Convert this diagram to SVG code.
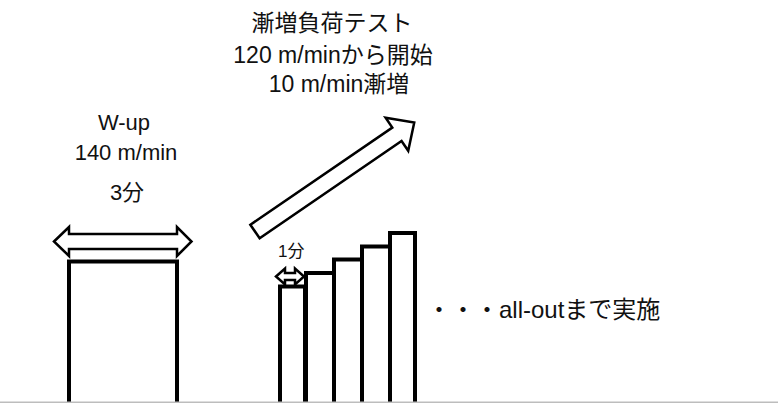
<svg xmlns="http://www.w3.org/2000/svg" width="778" height="403" viewBox="0 0 778 403">
<style>
.t{font-family:"Liberation Sans","Noto Sans CJK JP",sans-serif;fill:#111;}
.box{fill:#fff;stroke:#000;stroke-width:4;}
.arr{fill:#fff;stroke:#000;stroke-width:2.5;stroke-linejoin:miter;}
</style>
<rect width="778" height="403" fill="#fff"/>
<g id="title">
<text class="t" x="332" y="31" font-size="23" text-anchor="middle">漸増負荷テスト</text>
<text class="t" x="333" y="63" font-size="23" text-anchor="middle">120 m/minから開始</text>
<text class="t" x="339" y="92" font-size="23" text-anchor="middle">10 m/min漸増</text>
</g>
<g id="wup-label">
<text class="t" x="124" y="130" font-size="22" text-anchor="middle">W-up</text>
<text class="t" x="126" y="160" font-size="22" text-anchor="middle">140 m/min</text>
<text class="t" x="127" y="200" font-size="22" text-anchor="middle">3分</text>
</g>
<g id="wup-bar">
<rect class="box" x="69" y="261.5" width="108" height="150"/>
</g>
<g id="steps">
<rect class="box" x="280" y="286.5" width="25" height="125"/>
<rect class="box" x="306" y="273" width="28" height="138.5"/>
<rect class="box" x="334" y="259.5" width="28" height="152"/>
<rect class="box" x="362" y="246.5" width="28" height="165"/>
<rect class="box" x="390" y="233" width="25" height="178.5"/>
</g>
<line x1="0" y1="402.2" x2="778" y2="402.2" stroke="#bdbdbd" stroke-width="1.5"/>
<g id="step-label">
<text class="t" x="278" y="257" font-size="17">1分</text>
</g>
<g id="end-label">
<text class="t" x="427" y="318" font-size="24">・・・all-outまで実施</text>
</g>
<g id="connectors">
<path class="arr" d="M54,241.5 L69,227 L69,234 L177,234 L177,227 L191.5,241.5 L177,256 L177,249 L69,249 L69,256 Z"/>
<path class="arr" stroke-width="2" d="M276,276.5 L285,268.5 L285,273 L295,273 L295,268.5 L304,276.5 L295,284.5 L295,280 L285,280 L285,284.5 Z"/>
<path class="arr" transform="translate(255,231.5) rotate(-34.4)" d="M0,-8.2 L172,-8.2 L172,-20 L193,0 L172,20 L172,8.2 L0,8.2 Z"/>
</g>
</svg>
